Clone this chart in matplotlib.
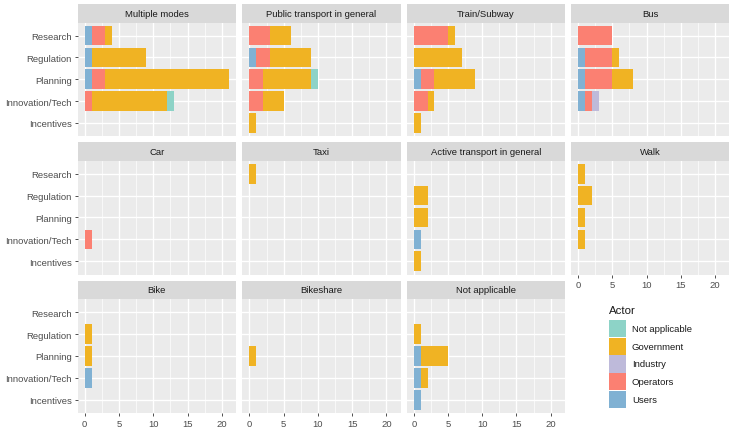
import matplotlib
matplotlib.use("Agg")
import matplotlib.pyplot as plt
from matplotlib.patches import Rectangle
import numpy as np

plt.rcParams['font.family'] = ['Liberation Sans', 'DejaVu Sans']

facets = ["Multiple modes", "Public transport in general", "Train/Subway", "Bus",
          "Car", "Taxi", "Active transport in general", "Walk",
          "Bike", "Bikeshare", "Not applicable"]
categories = ["Research", "Regulation", "Planning", "Innovation/Tech", "Incentives"]

# stacking order left -> right
actors = ["Users", "Operators", "Industry", "Government", "Not applicable"]
legend_order = ["Not applicable", "Government", "Industry", "Operators", "Users"]
colors = {"Not applicable": "#8DD3C7", "Government": "#F0B323", "Industry": "#BEBADA",
          "Operators": "#FB8072", "Users": "#80B1D3"}

# rows follow `facets`, columns follow `categories`
users = [[1, 1, 1, 0, 0], [0, 1, 0, 0, 0], [0, 0, 1, 0, 0], [0, 1, 1, 1, 0],
         [0, 0, 0, 0, 0], [0, 0, 0, 0, 0], [0, 0, 0, 1, 0], [0, 0, 0, 0, 0],
         [0, 0, 0, 1, 0], [0, 0, 0, 0, 0], [0, 0, 1, 1, 1]]
operators = [[2, 0, 2, 1, 0], [3, 2, 2, 2, 0], [5, 0, 2, 2, 0], [5, 4, 4, 1, 0],
             [0, 0, 0, 1, 0], [0, 0, 0, 0, 0], [0, 0, 0, 0, 0], [0, 0, 0, 0, 0],
             [0, 0, 0, 0, 0], [0, 0, 0, 0, 0], [0, 0, 0, 0, 0]]
industry = [[0, 0, 0, 0, 0], [0, 0, 0, 0, 0], [0, 0, 0, 0, 0], [0, 0, 0, 1, 0],
            [0, 0, 0, 0, 0], [0, 0, 0, 0, 0], [0, 0, 0, 0, 0], [0, 0, 0, 0, 0],
            [0, 0, 0, 0, 0], [0, 0, 0, 0, 0], [0, 0, 0, 0, 0]]
government = [[1, 8, 18, 11, 0], [3, 6, 7, 3, 1], [1, 7, 6, 1, 1], [0, 1, 3, 0, 0],
              [0, 0, 0, 0, 0], [1, 0, 0, 0, 0], [0, 2, 2, 0, 1], [1, 2, 1, 1, 0],
              [0, 1, 1, 0, 0], [0, 0, 1, 0, 0], [0, 1, 4, 1, 0]]
not_applicable = [[0, 0, 0, 1, 0], [0, 0, 1, 0, 0], [0, 0, 0, 0, 0], [0, 0, 0, 0, 0],
                  [0, 0, 0, 0, 0], [0, 0, 0, 0, 0], [0, 0, 0, 0, 0], [0, 0, 0, 0, 0],
                  [0, 0, 0, 0, 0], [0, 0, 0, 0, 0], [0, 0, 0, 0, 0]]
values = {"Users": users, "Operators": operators, "Industry": industry,
          "Government": government, "Not applicable": not_applicable}

x_ticks = [0, 5, 10, 15, 20]

W, H = 735, 435
fig = plt.figure(figsize=(W / 100, H / 100), dpi=100)
fig.patch.set_facecolor("white")


def px_axes(x0, y0, x1, y1):
    return fig.add_axes([x0 / W, 1 - y1 / H, (x1 - x0) / W, (y1 - y0) / H])


col_x = [(77.5, 236.0), (242.3, 400.5), (406.7, 564.7), (571.0, 729.0)]
row_y = [(5.0, 23.5, 137.0), (143.0, 161.5, 275.5), (281.5, 300.0, 414.0)]

FS = 6.8
ypos = np.arange(len(categories))[::-1]
xmax = 21
for i, name in enumerate(facets):
    r, c = divmod(i, 4)
    x0, x1 = col_x[c]
    st, pt, pb = row_y[r]
    # strip
    sax = px_axes(x0, st, x1, pt)
    sax.set_facecolor("#D9D9D9")
    sax.set_xticks([]); sax.set_yticks([])
    for s in sax.spines.values():
        s.set_visible(False)
    sax.text(0.5, 0.5, name, ha="center", va="center", fontsize=FS, color="#1A1A1A",
             transform=sax.transAxes)
    # panel
    ax = px_axes(x0, pt, x1, pb)
    ax.set_facecolor("#EBEBEB")
    for s in ax.spines.values():
        s.set_visible(False)
    ax.set_xlim(-0.05 * xmax, xmax * 1.05)
    ax.set_ylim(-0.6, len(categories) - 0.4)
    ax.set_xticks(x_ticks)
    ax.set_xticks([2.5, 7.5, 12.5, 17.5], minor=True)
    ax.set_yticks(ypos)
    ax.grid(True, which="major", color="white", linewidth=0.95)
    ax.grid(True, which="minor", axis="x", color="white", linewidth=0.5)
    ax.set_axisbelow(True)
    left = np.zeros(len(categories))
    for a in actors:
        v = np.array(values[a][i], dtype=float)
        ax.barh(ypos, v, left=left, height=0.9, color=colors[a], linewidth=0)
        left += v
    ax.tick_params(which="minor", length=0)
    ax.tick_params(which="major", length=2.5, width=0.6, color="#333333",
                   labelcolor="#4D4D4D", labelsize=FS, pad=1.5)
    if c == 0:
        ax.set_yticklabels(categories)
    else:
        ax.tick_params(axis="y", length=0, labelleft=False)
    bottom_axis = (r == 2) or (r == 1 and c == 3)
    if bottom_axis:
        ax.set_xticklabels([str(t) for t in x_ticks])
    else:
        ax.tick_params(axis="x", length=0, labelbottom=False)

# legend
lax = px_axes(600, 300, 735, 415)
lax.set_xlim(600, 735)
lax.set_ylim(415, 300)
lax.axis("off")
lax.text(608.5, 310.5, "Actor", ha="left", va="center", fontsize=8.2, color="#1A1A1A")
key_top = 320.7
step = 17.7
for k, a in enumerate(legend_order):
    y = key_top + k * step
    lax.add_patch(Rectangle((608.5, y + 0.3), 17.0, step - 0.6, facecolor=colors[a],
                            edgecolor="none"))
    lax.text(632.0, y + step / 2, a, ha="left", va="center", fontsize=FS, color="#1A1A1A")

fig.savefig("out.png", dpi=100)
